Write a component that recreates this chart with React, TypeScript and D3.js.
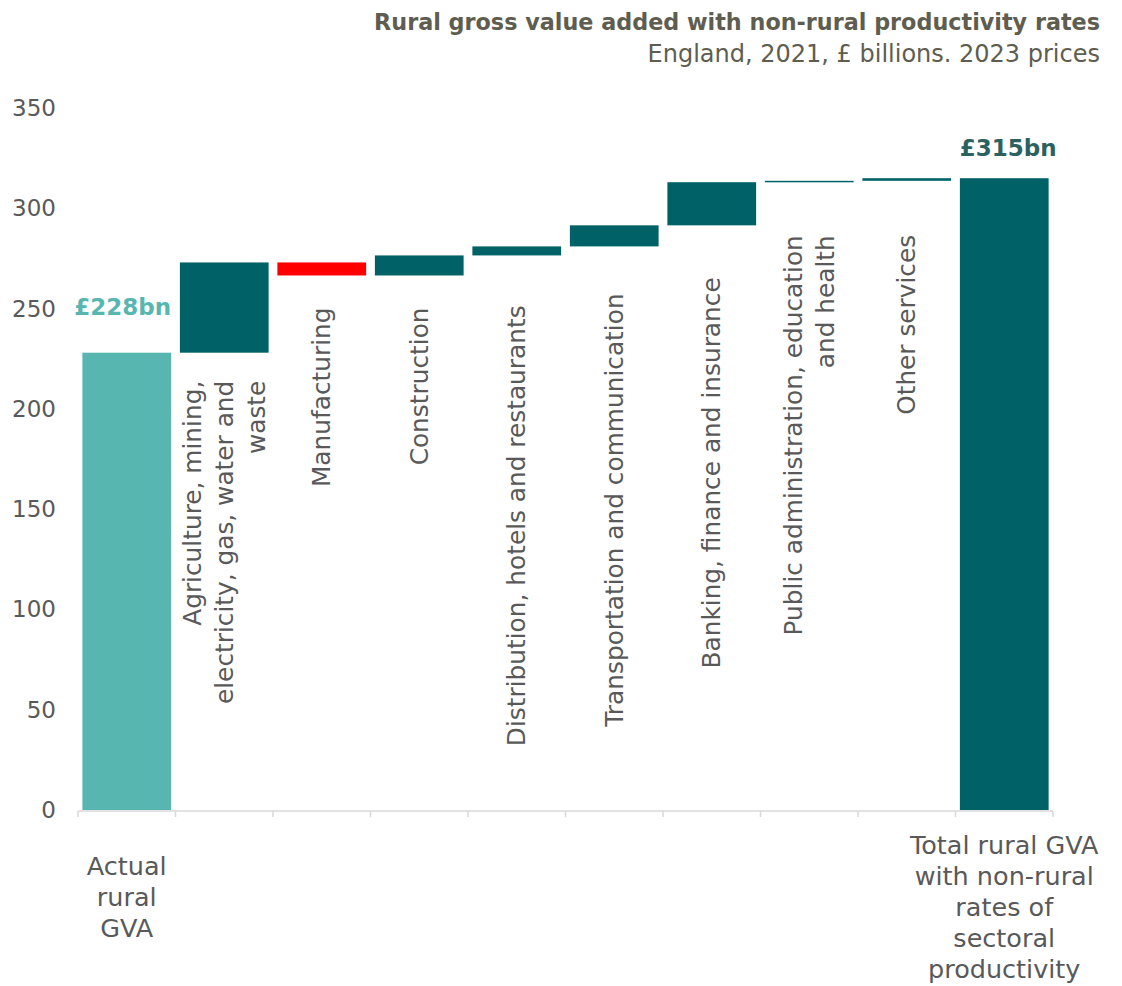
import React from "react";
import * as d3 from "d3";

// ---------- data ----------
const categoryLines: string[][] = [
  ["Actual", "rural", "GVA"],
  ["Agriculture, mining,", "electricity, gas, water and", "waste"],
  ["Manufacturing"],
  ["Construction"],
  ["Distribution, hotels and restaurants"],
  ["Transportation and communication"],
  ["Banking, finance and insurance"],
  ["Public administration, education", "and health"],
  ["Other services"],
  ["Total rural GVA", "with non-rural", "rates of", "sectoral", "productivity"],
];
const categories = categoryLines.map((l) => l.join(" "));
const startValue = 228;
const changes = [45, -6.5, 10, 4.5, 10.5, 21.5, 0.7, 1.3];
const totalValue = 315;
const yTicks = [0, 50, 100, 150, 200, 250, 300, 350];
const startLabel = "£228bn";
const totalLabel = "£315bn";
const title = "Rural gross value added with non-rural productivity rates";
const subtitle = "England, 2021, £ billions. 2023 prices";

// ---------- layout / style ----------
const W = 1122;
const H = 986;
const FONT = "'DejaVu Sans', sans-serif";
const TEXT = "#595959";
const DARK = "#006266";
const LIGHT = "#58b6b0";
const RED = "#ff0000";
// gap (px) between bar bottom and the top end of each rotated label
const labelGaps = [28, 32, 32, 50, 47, 52, 53, 54];

export default function App() {
  const x = d3
    .scaleBand<string>()
    .domain(categories)
    .range([78, 1053])
    .paddingInner(0.09)
    .paddingOuter(0.045);
  const y = d3.scaleLinear().domain([0, 350]).range([810, 108]);

  type Bar = { cat: string; lo: number; hi: number; color: string };
  const bars: Bar[] = [];
  bars.push({ cat: categories[0], lo: 0, hi: startValue, color: LIGHT });
  let run = startValue;
  changes.forEach((c, i) => {
    const next = run + c;
    bars.push({
      cat: categories[i + 1],
      lo: Math.min(run, next),
      hi: Math.max(run, next),
      color: c < 0 ? RED : DARK,
    });
    run = next;
  });
  bars.push({ cat: categories[categories.length - 1], lo: 0, hi: totalValue, color: DARK });

  const step = x.step();
  const bandStart = x.range()[0];
  const boundaries = d3.range(categories.length + 1).map((i) => bandStart + i * step);
  const axisY = y(0) + 1;
  const lineH = 32;

  return (
    <svg
      width={W}
      height={H}
      style={{ position: "absolute", left: 0, top: 0, display: "block", background: "#fff" }}
      fontFamily={FONT}
    >
      {/* title */}
      <text x={1100} y={30} textAnchor="end" fontSize={22.3} fontWeight="bold" fill="#5e5d4f">
        {title}
      </text>
      <text x={1100} y={62} textAnchor="end" fontSize={24} fill="#5e5d4f">
        {subtitle}
      </text>

      {/* y tick labels */}
      {yTicks.map((t) => (
        <text key={t} x={56} y={y(t)} textAnchor="end" dominantBaseline="central" fontSize={23} fill={TEXT}>
          {t}
        </text>
      ))}

      {/* bars */}
      {bars.map((b) => (
        <rect
          key={b.cat}
          x={x(b.cat)}
          y={y(b.hi)}
          width={x.bandwidth()}
          height={Math.max(1.5, y(b.lo) - y(b.hi))}
          fill={b.color}
        />
      ))}

      {/* axis */}
      <line x1={boundaries[0]} x2={boundaries[boundaries.length - 1]} y1={axisY} y2={axisY} stroke="#d9d9d9" strokeWidth={1.5} />
      {boundaries.map((bx, i) => (
        <line key={i} x1={bx} x2={bx} y1={axisY} y2={axisY + 6} stroke="#d9d9d9" strokeWidth={1.5} />
      ))}

      {/* value labels */}
      <text
        x={(x(categories[0]) as number) + x.bandwidth() / 2 - 4}
        y={y(startValue) - 38}
        textAnchor="middle"
        fontSize={23}
        fontWeight="bold"
        fill={LIGHT}
      >
        {startLabel}
      </text>
      <text
        x={(x(categories[categories.length - 1]) as number) + x.bandwidth() / 2 + 4}
        y={y(totalValue) - 22}
        textAnchor="middle"
        fontSize={23}
        fontWeight="bold"
        fill="#2b625f"
      >
        {totalLabel}
      </text>

      {/* rotated category labels for changes */}
      {bars.slice(1, -1).map((b, i) => {
        const lines = categoryLines[i + 1];
        const cx = (x(b.cat) as number) + x.bandwidth() / 2;
        const top = y(b.lo) + labelGaps[i];
        return (
          <g key={b.cat} transform={`translate(${cx},${top}) rotate(-90)`}>
            {lines.map((ln, j) => (
              <text
                key={j}
                x={0}
                y={(j - (lines.length - 1) / 2) * lineH}
                textAnchor="end"
                dominantBaseline="central"
                fontSize={24.8}
                fill={TEXT}
              >
                {ln}
              </text>
            ))}
          </g>
        );
      })}

      {/* bottom category labels */}
      {[0, categories.length - 1].map((idx) => {
        const lines = categoryLines[idx];
        const cx = (x(categories[idx]) as number) + x.bandwidth() / 2;
        const first = idx === 0 ? axisY + 64 : axisY + 43;
        return (
          <text key={idx} textAnchor="middle" fontSize={25.5} fill={TEXT}>
            {lines.map((ln, j) => (
              <tspan key={j} x={cx} y={first + j * 31}>
                {ln}
              </tspan>
            ))}
          </text>
        );
      })}
    </svg>
  );
}
